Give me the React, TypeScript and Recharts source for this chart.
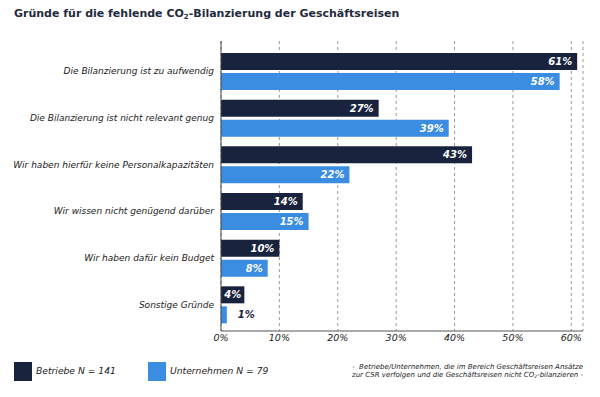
import React from "react";
import { BarChart, Bar, XAxis, YAxis, CartesianGrid, LabelList } from "recharts";

const categories = [
  "Die Bilanzierung ist zu aufwendig",
  "Die Bilanzierung ist nicht relevant genug",
  "Wir haben hierfür keine Personalkapazitäten",
  "Wir wissen nicht genügend darüber",
  "Wir haben dafür kein Budget",
  "Sonstige Gründe",
];
const betriebe = [61, 27, 43, 14, 10, 4];
const unternehmen = [58, 39, 22, 15, 8, 1];
const xTicks = [0, 10, 20, 30, 40, 50, 60];

const DARK = "#19233d";
const LIGHT = "#3a8de0";
const FONT = "'DejaVu Sans', Verdana, sans-serif";

const data = categories.map((c, i) => ({ name: c, betriebe: betriebe[i], unternehmen: unternehmen[i] }));

const YTick = (props: any) => {
  const { x, y, payload } = props;
  return (
    <text x={x} y={y} dy={3} textAnchor="end" fontSize={9} fontStyle="italic" fill="#222" fontFamily={FONT}>
      {payload.value}
    </text>
  );
};

const XTick = (props: any) => {
  const { x, y, payload } = props;
  return (
    <text x={x} y={y} dy={7} textAnchor="middle" fontSize={9.5} fontStyle="italic" fill="#222" fontFamily={FONT}>
      {payload.value}%
    </text>
  );
};

const makeLabel = () => (props: any) => {
  const { x, y, width, height, value } = props;
  const small = width < 12;
  const narrow = !small && width < 32;
  const tx = small ? x + width + 11 : narrow ? x + width / 2 : x + width - 5;
  return (
    <text
      x={tx}
      y={y + height / 2}
      dy={3.5}
      textAnchor={small ? "start" : narrow ? "middle" : "end"}
      fontSize={10}
      fontWeight="bold"
      fontStyle="italic"
      fill={small ? DARK : "#ffffff"}
      fontFamily={FONT}
    >
      {value}%
    </text>
  );
};

export default function App() {
  return (
    <div style={{ position: "absolute", left: 0, top: 0, width: 600, height: 397, background: "#fff", fontFamily: FONT }}>
      <div style={{ position: "absolute", left: 14, top: 7, fontSize: 11, fontWeight: "bold", color: "#1f2a3c", whiteSpace: "nowrap" }}>
        Gründe für die fehlende CO<sub style={{ fontSize: 7, verticalAlign: "-2px" }}>2</sub>-Bilanzierung der Geschäftsreisen
      </div>
      <BarChart
        width={600}
        height={397}
        data={data}
        layout="vertical"
        margin={{ top: 41, right: 17, left: 0, bottom: 36 }}
        barSize={17}
        barGap={3}
      >
        <CartesianGrid horizontal={false} strokeDasharray="3 3" stroke="#999" />
        <XAxis
          type="number"
          domain={[0, 62]}
          ticks={xTicks}
          tick={<XTick />}
          tickLine={false}
          tickSize={0}
          tickMargin={3}
          height={30}
          axisLine={{ stroke: "#555" }}
          allowDataOverflow
        />
        <YAxis
          type="category"
          dataKey="name"
          width={221}
          tick={<YTick />}
          tickLine={false}
          tickSize={0}
          tickMargin={7}
          axisLine={{ stroke: "#444" }}
          padding={{ top: 7, bottom: 3 }}
        />
        <Bar dataKey="betriebe" fill={DARK} isAnimationActive={false}>
          <LabelList dataKey="betriebe" content={makeLabel()} />
        </Bar>
        <Bar dataKey="unternehmen" fill={LIGHT} isAnimationActive={false}>
          <LabelList dataKey="unternehmen" content={makeLabel()} />
        </Bar>
      </BarChart>
      <div style={{ position: "absolute", left: 14, top: 362, width: 18, height: 19, background: DARK }} />
      <div style={{ position: "absolute", left: 36, top: 365, fontSize: 9.2, fontStyle: "italic", color: "#222", whiteSpace: "nowrap" }}>
        Betriebe N = 141
      </div>
      <div style={{ position: "absolute", left: 148, top: 362, width: 18, height: 19, background: LIGHT }} />
      <div style={{ position: "absolute", left: 170, top: 365, fontSize: 9.2, fontStyle: "italic", color: "#222", whiteSpace: "nowrap" }}>
        Unternehmen N = 79
      </div>
      <div style={{ position: "absolute", right: 17, top: 364, fontSize: 7, lineHeight: "7.5px", fontStyle: "italic", color: "#222", textAlign: "right", whiteSpace: "nowrap" }}>
        <div>-&nbsp; Betriebe/Unternehmen, die im Bereich Geschäftsreisen Ansätze</div>
        <div>zur CSR verfolgen und die Geschäftsreisen nicht CO<sub style={{ fontSize: 4.5, verticalAlign: "-1px" }}>2</sub>-bilanzieren -</div>
      </div>
    </div>
  );
}
